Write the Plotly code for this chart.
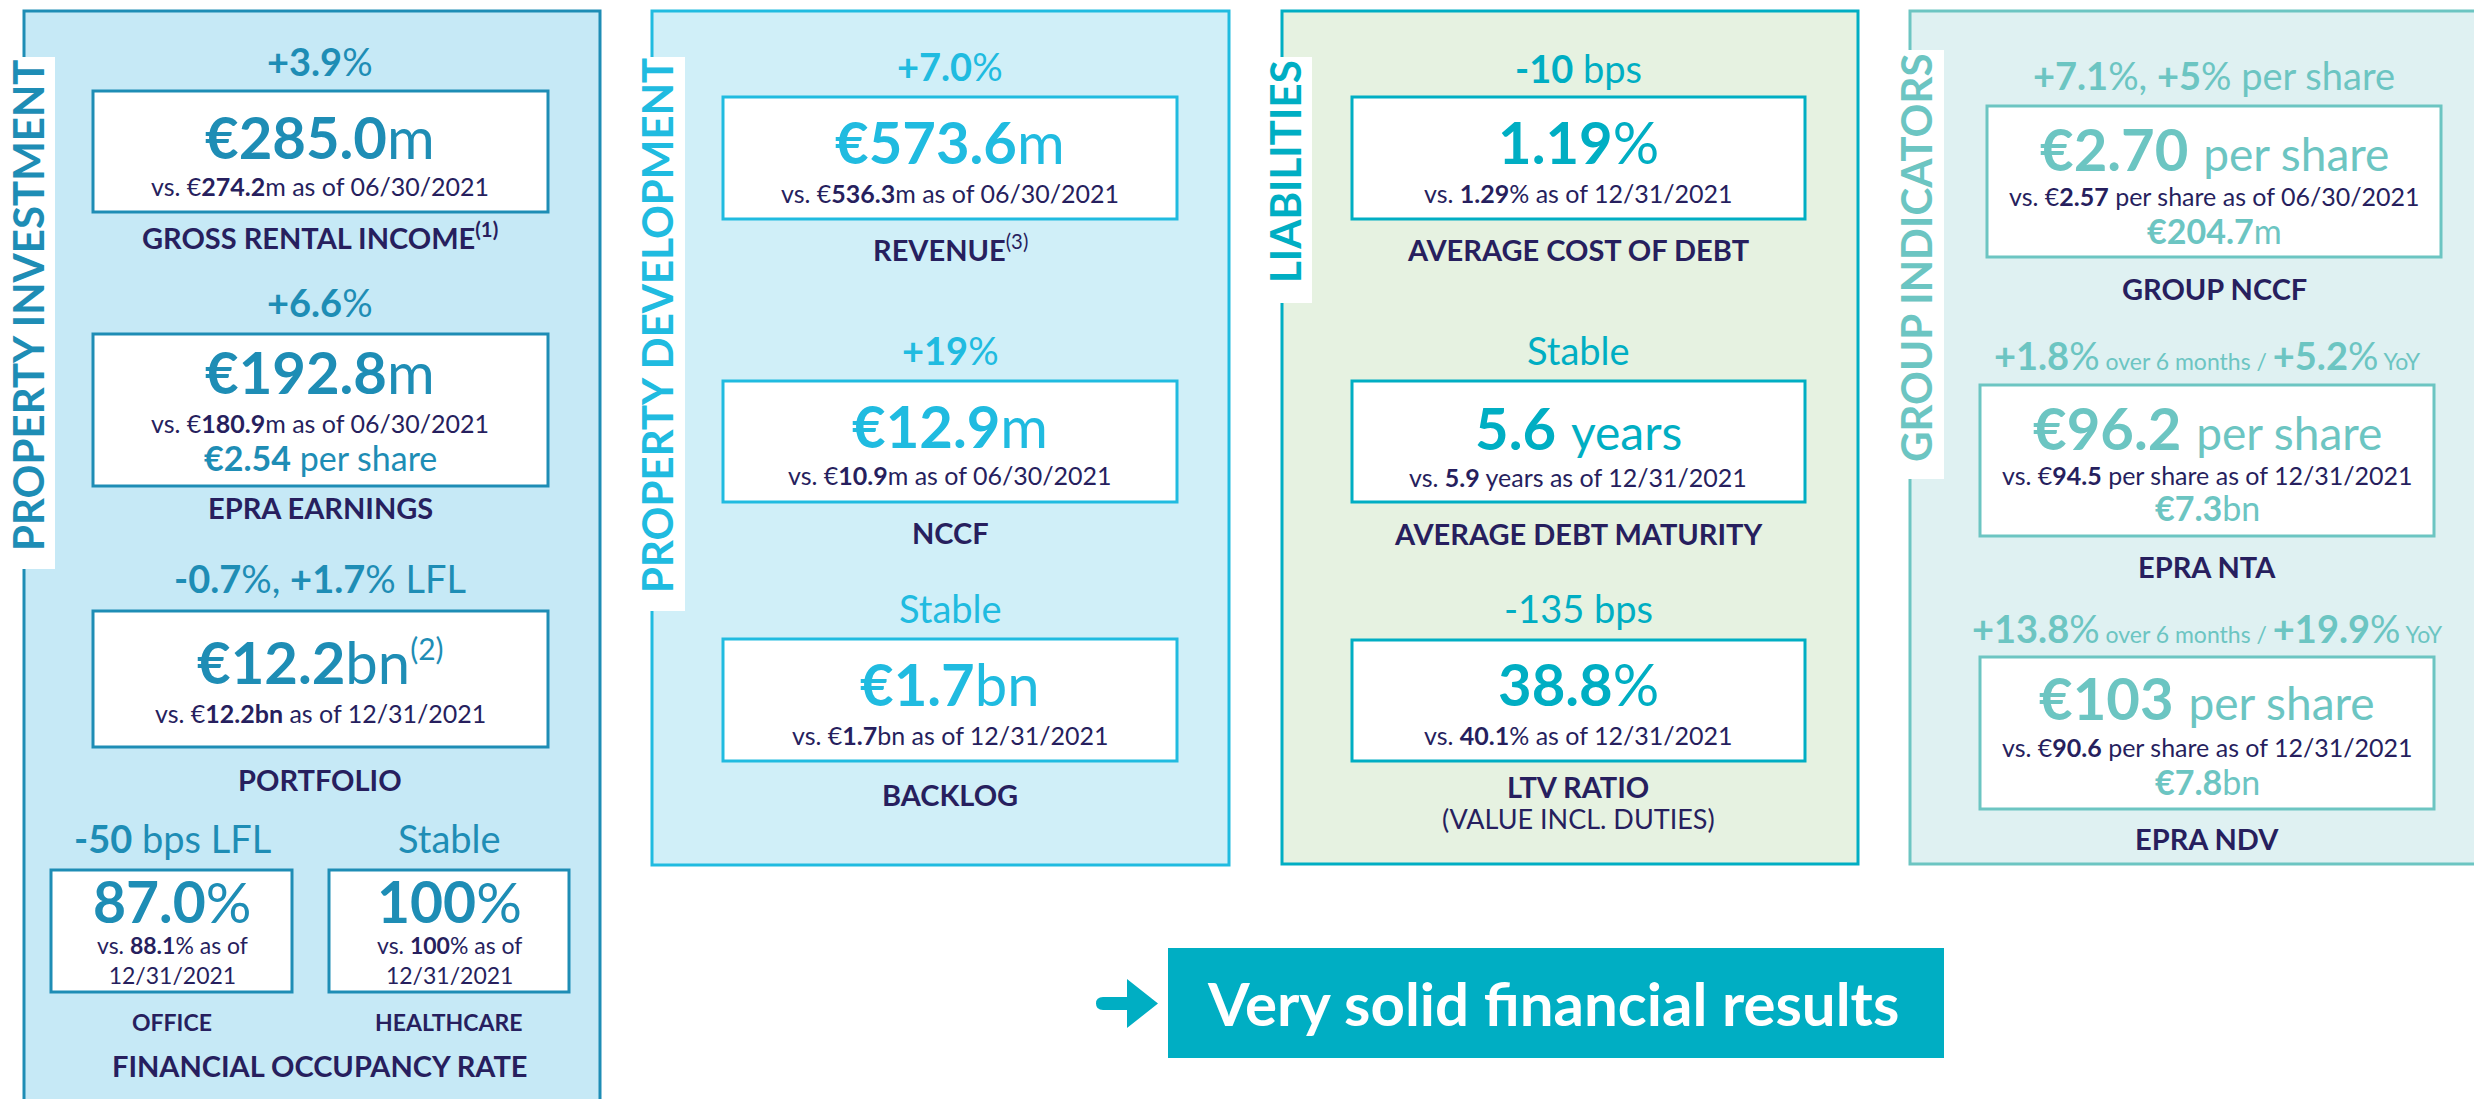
import plotly.graph_objects as go

W, H = 2474, 1099
FONT = "Lato, 'Open Sans', sans-serif"
NAVY = "#271F5E"

# ---------------- data ----------------
sections = ["PROPERTY INVESTMENT", "PROPERTY DEVELOPMENT", "LIABILITIES", "GROUP INDICATORS"]
section_colors = ["#1E8DB5", "#20BBE0", "#00AEC3", "#6CC5C2"]
section_fills = ["#C6E9F6", "#D0EFF8", "#E6F2E1", "#DFF1F2"]

pi_changes = ["<b>+3.9</b>%", "<b>+6.6</b>%", "<b>-0.7</b>%, <b>+1.7</b>% LFL"]
pi_values = ["<b>€285.0</b>m", "<b>€192.8</b>m",
             "<b>€12.2</b>bn<sup><span style='font-size:30px'>(2)</span></sup>"]
pi_previous = ["vs. €<b>274.2</b>m as of 06/30/2021",
               "vs. €<b>180.9</b>m as of 06/30/2021",
               "vs. €<b>12.2bn</b> as of 12/31/2021"]
pi_extra = [None, "<b>€2.54</b> per share", None]
pi_labels = ["<b>GROSS RENTAL INCOME<sup>(1)</sup></b>", "<b>EPRA EARNINGS</b>", "<b>PORTFOLIO</b>"]

occ_categories = ["OFFICE", "HEALTHCARE"]
occ_changes = ["<b>-50</b> bps LFL", "Stable"]
occ_values = ["<b>87.0</b>%", "<b>100</b>%"]
occ_previous = ["vs. <b>88.1</b>% as of", "vs. <b>100</b>% as of"]
occ_dates = ["12/31/2021", "12/31/2021"]
occ_title = "FINANCIAL OCCUPANCY RATE"

pd_changes = ["<b>+7.0</b>%", "<b>+19</b>%", "Stable"]
pd_values = ["<b>€573.6</b>m", "<b>€12.9</b>m", "<b>€1.7</b>bn"]
pd_previous = ["vs. €<b>536.3</b>m as of 06/30/2021",
               "vs. €<b>10.9</b>m as of 06/30/2021",
               "vs. €<b>1.7</b>bn as of 12/31/2021"]
pd_labels = ["<b>REVENUE</b><sup>(3)</sup>", "<b>NCCF</b>", "<b>BACKLOG</b>"]

li_changes = ["<b>-10</b> bps", "Stable", "-135 bps"]
li_values = ["<b>1.19</b>%", "<b>5.6</b> <span style='font-size:48px'>years</span>", "<b>38.8</b>%"]
li_previous = ["vs. <b>1.29</b>% as of 12/31/2021",
               "vs. <b>5.9</b> years as of 12/31/2021",
               "vs. <b>40.1</b>% as of 12/31/2021"]
li_labels = ["<b>AVERAGE COST OF DEBT</b>", "<b>AVERAGE DEBT MATURITY</b>", "<b>LTV RATIO</b>"]
li_sublabels = [None, None, "(VALUE INCL. DUTIES)"]

SM = "<span style='font-size:23px'>"
gi_changes = ["<b>+7.1</b>%, <b>+5</b>% per share",
              "<b>+1.8</b>%" + SM + " over 6 months / </span><b>+5.2</b>%" + SM + " YoY</span>",
              "<b>+13.8</b>%" + SM + " over 6 months / </span><b>+19.9</b>%" + SM + " YoY</span>"]
gi_values = ["<b>€2.70</b> <span style='font-size:46px'>per share</span>",
             "<b>€96.2</b> <span style='font-size:46px'>per share</span>",
             "<b>€103</b> <span style='font-size:46px'>per share</span>"]
gi_previous = ["vs. €<b>2.57</b> per share as of 06/30/2021",
               "vs. €<b>94.5</b> per share as of 12/31/2021",
               "vs. €<b>90.6</b> per share as of 12/31/2021"]
gi_totals = ["<b>€204.7</b>m", "<b>€7.3</b>bn", "<b>€7.8</b>bn"]
gi_labels = ["<b>GROUP NCCF</b>", "<b>EPRA NTA</b>", "<b>EPRA NDV</b>"]

conclusion = "Very solid financial results"

# ---------------- figure ----------------
fig = go.Figure()
shapes = []


def rect(x0, y0, x1, y1, fill, line=None, lw=3):
    shapes.append(dict(type="rect", xref="x", yref="y", x0=x0, y0=y0, x1=x1, y1=y1,
                       fillcolor=fill, line=dict(color=line or fill, width=lw if line else 0)))


def txt(x, y, s, size, color, angle=0):
    fig.add_annotation(x=x, y=y, xref="x", yref="y", text=s, showarrow=False,
                       textangle=angle, xanchor="center", yanchor="middle",
                       font=dict(family=FONT, size=size, color=color))


# panel frames
panels = [(24, 11, 600, 1130), (652, 11, 1229, 865), (1282, 11, 1858, 864), (1910, 11, 2520, 864)]
for (x0, y0, x1, y1), f, c in zip(panels, section_fills, section_colors):
    rect(x0, y0, x1, y1, f, c, 3)

# vertical section labels on white tabs
tabs = [(0, 57, 55, 569), (630, 57, 685, 611), (1260, 57, 1312, 303), (1880, 50, 1944, 479)]
tab_text = [(28, 305), (657, 326), (1285, 172), (1916, 258)]
for (x0, y0, x1, y1), (tx, ty), name, c in zip(tabs, tab_text, sections, section_colors):
    rect(x0, y0, x1, y1, "white")
    txt(tx, ty, "<b>" + name + "</b>", 42, c, angle=-90)

# ---- Property investment ----
c = section_colors[0]
cx = 320
rows = [dict(ch=61, b0=91, b1=212, v=136, p=186, e=None, l=236),
        dict(ch=302, b0=334, b1=486, v=371, p=423, e=457, l=507),
        dict(ch=578, b0=611, b1=747, v=661, p=713, e=None, l=779)]
for i, r in enumerate(rows):
    rect(93, r["b0"], 548, r["b1"], "white", c, 3)
    txt(cx, r["ch"], pi_changes[i], 38, c)
    txt(cx, r["v"], pi_values[i], 58, c)
    txt(cx, r["p"], pi_previous[i], 25, NAVY)
    if pi_extra[i]:
        txt(cx, r["e"], pi_extra[i], 34, c)
    txt(cx, r["l"], pi_labels[i], 29, NAVY)

occ_x = [172, 449]
occ_box = [(51, 292), (329, 569)]
for i in range(2):
    rect(occ_box[i][0], 870, occ_box[i][1], 992, "white", c, 3)
    txt(occ_x[i], 838, occ_changes[i], 38, c)
    txt(occ_x[i], 901, occ_values[i], 57, c)
    txt(occ_x[i], 960, occ_previous[i] + "<br>" + occ_dates[i], 23, NAVY)
    txt(occ_x[i], 1022, "<b>" + occ_categories[i] + "</b>", 23, NAVY)
txt(cx, 1065, "<b>" + occ_title + "</b>", 29, NAVY)

# ---- Property development ----
c = section_colors[1]
cx = 950
rows = [dict(ch=66, b0=97, b1=219, v=141, p=193, l=248),
        dict(ch=350, b0=381, b1=502, v=425, p=475, l=532),
        dict(ch=608, b0=639, b1=761, v=683, p=735, l=794)]
for i, r in enumerate(rows):
    rect(723, r["b0"], 1177, r["b1"], "white", c, 3)
    txt(cx, r["ch"], pd_changes[i], 38, c)
    txt(cx, r["v"], pd_values[i], 58, c)
    txt(cx, r["p"], pd_previous[i], 25, NAVY)
    txt(cx, r["l"], pd_labels[i], 29, NAVY)

# ---- Liabilities ----
c = section_colors[2]
cx = 1578
rows = [dict(ch=68, b0=97, b1=219, v=141, p=193, l=249),
        dict(ch=350, b0=381, b1=502, v=427, p=477, l=533),
        dict(ch=608, b0=640, b1=761, v=683, p=735, l=786)]
for i, r in enumerate(rows):
    rect(1352, r["b0"], 1805, r["b1"], "white", c, 3)
    txt(cx, r["ch"], li_changes[i], 38, c)
    txt(cx, r["v"], li_values[i], 58, c)
    txt(cx, r["p"], li_previous[i], 25, NAVY)
    txt(cx, r["l"], li_labels[i], 29, NAVY)
    if li_sublabels[i]:
        txt(cx, 818, li_sublabels[i], 27, NAVY)

# ---- Group indicators ----
c = section_colors[3]
rows = [dict(cx=2214, bx0=1987, bx1=2441, ch=75, b0=106, b1=257, v=148, p=196, t=230, l=288),
        dict(cx=2207, bx0=1980, bx1=2434, ch=355, b0=385, b1=536, v=427, p=475, t=507, l=566),
        dict(cx=2207, bx0=1980, bx1=2434, ch=628, b0=657, b1=809, v=697, p=747, t=781, l=838)]
for i, r in enumerate(rows):
    rect(r["bx0"], r["b0"], r["bx1"], r["b1"], "white", c, 3)
    txt(r["cx"], r["ch"], gi_changes[i], 38, c)
    txt(r["cx"], r["v"], gi_values[i], 58, c)
    txt(r["cx"], r["p"], gi_previous[i], 25, NAVY)
    txt(r["cx"], r["t"], gi_totals[i], 34, c)
    txt(r["cx"], r["l"], gi_labels[i], 29, NAVY)

# ---- conclusion banner ----
BAN = "#00AEC3"
rect(1168, 948, 1944, 1058, BAN)
shapes.append(dict(type="path", xref="x", yref="y", fillcolor=BAN, line=dict(width=0),
                   path="M 1103,997 L 1127,997 L 1127,979 L 1158,1003.5 L 1127,1028 L 1127,1010 "
                        "L 1103,1010 Q 1096,1010 1096,1003.5 Q 1096,997 1103,997 Z"))
txt(1553, 1003, "<b>" + conclusion + "</b>", 60, "white")

fig.update_layout(
    width=W, height=H,
    margin=dict(l=0, r=0, t=0, b=0),
    paper_bgcolor="white", plot_bgcolor="white",
    xaxis=dict(range=[0, W], visible=False, fixedrange=True),
    yaxis=dict(range=[H, 0], visible=False, fixedrange=True),
    shapes=shapes,
    showlegend=False,
)

fig.write_html("out.html", config={"displayModeBar": False, "staticPlot": True},
               post_script="document.body.style.margin='0';document.body.style.overflow='hidden';")
